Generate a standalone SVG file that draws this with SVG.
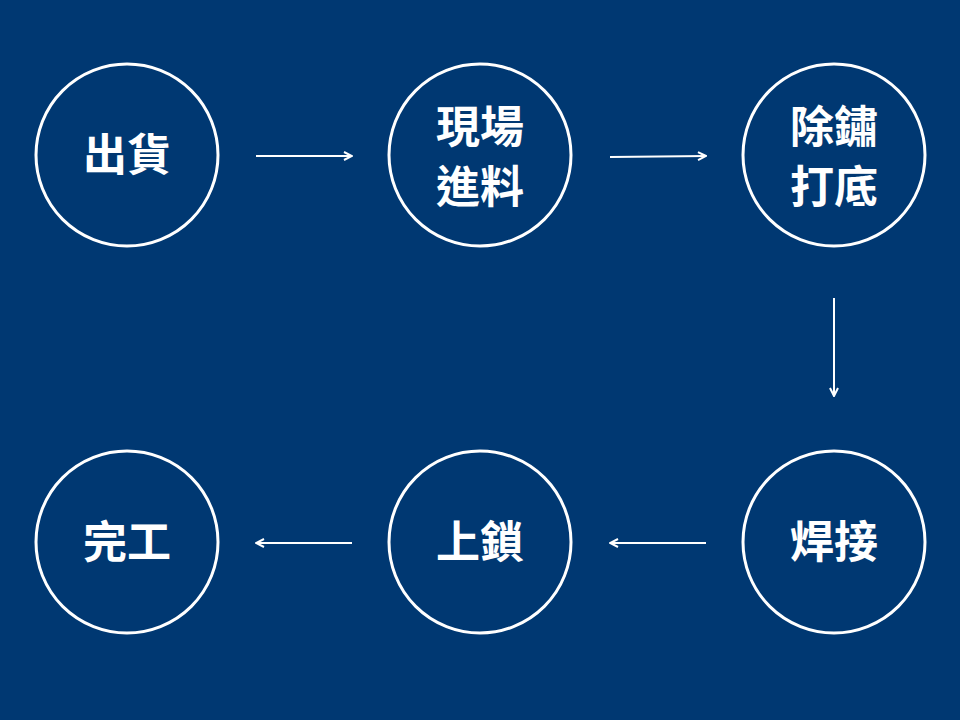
<svg xmlns="http://www.w3.org/2000/svg" width="960" height="720" viewBox="0 0 960 720">
<style>
.n{fill:none;stroke:#fff;stroke-width:3}
.t{fill:#fff;font-family:"Noto Sans CJK TC","Noto Sans CJK SC",sans-serif;font-weight:bold;font-size:44px;text-anchor:middle}
.c{stroke:#fff;stroke-width:2;fill:none;marker-end:url(#a)}
</style>
<defs><marker id="a" markerWidth="10" markerHeight="10" refX="9" refY="5" orient="auto" markerUnits="userSpaceOnUse"><path d="M1,1 L9,5 L1,9" fill="none" stroke="#fff" stroke-width="2"/></marker></defs>
<rect width="960" height="720" fill="#003872"/>
<g id="n1"><circle class="n" cx="127" cy="155" r="91"/><text class="t" x="127" y="171">出貨</text></g>
<g id="n2"><circle class="n" cx="480" cy="155" r="91"/><text class="t" x="480" y="143">現場</text><text class="t" x="480" y="203">進料</text></g>
<g id="n3"><circle class="n" cx="834" cy="155" r="91"/><text class="t" x="834" y="143">除鏽</text><text class="t" x="834" y="203">打底</text></g>
<g id="n4"><circle class="n" cx="834" cy="542" r="91"/><text class="t" x="834" y="558">焊接</text></g>
<g id="n5"><circle class="n" cx="480" cy="542" r="91"/><text class="t" x="480" y="558">上鎖</text></g>
<g id="n6"><circle class="n" cx="127" cy="542" r="91"/><text class="t" x="127" y="558">完工</text></g>
<g id="connectors">
<line class="c" x1="256" y1="156" x2="352" y2="156"/>
<line class="c" x1="610" y1="157" x2="706" y2="156"/>
<line class="c" x1="834" y1="298" x2="834" y2="396"/>
<line class="c" x1="706" y1="543" x2="610" y2="543"/>
<line class="c" x1="352" y1="543" x2="256" y2="543"/>
</g>
</svg>
